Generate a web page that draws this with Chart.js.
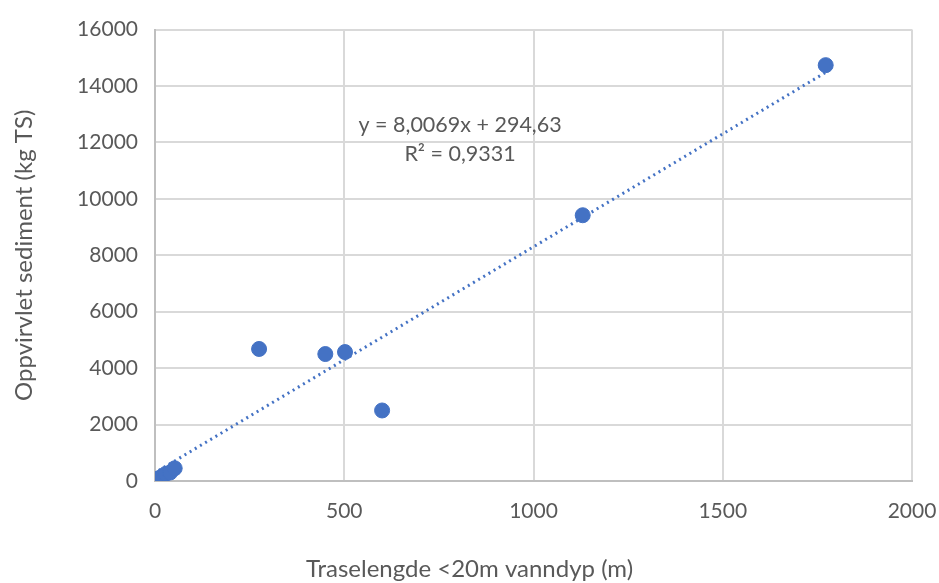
<!DOCTYPE html>
<html>
<head>
<meta charset="utf-8">
<script src="https://cdn.jsdelivr.net/npm/chart.js@4"></script>
<style>
  html, body { margin: 0; padding: 0; background: #fff; }
  #wrap { width: 939px; height: 583px; }
</style>
</head>
<body>
<div id="wrap"><canvas id="scatterChart"></canvas></div>
<script>
// data
var lengths = [10, 18, 28, 40, 52, 275, 450, 502, 600, 1130, 1772];
var sediment = [100, 150, 250, 300, 450, 4680, 4500, 4570, 2500, 9420, 14740];
var xTicks = [0, 500, 1000, 1500, 2000];
var yTicks = [0, 2000, 4000, 6000, 8000, 10000, 12000, 14000, 16000];
var slope = 8.0069;
var intercept = 294.63;
var eqLines = ['y = 8,0069x + 294,63', 'R\u00b2 = 0,9331'];
var xTitle = 'Traselengde <20m vanndyp (m)';

document.addEventListener('DOMContentLoaded', function() {
    var ctx = document.getElementById('scatterChart').getContext('2d');
    var points = lengths.map(function(x, i) { return {x: x, y: sediment[i]}; });
    var xMin = Math.min.apply(null, lengths);
    var xMax = Math.max.apply(null, lengths);
    var trend = [
        {x: xMin, y: slope * xMin + intercept},
        {x: xMax, y: slope * xMax + intercept}
    ];

    // equation text + x title (Excel centers it on the whole chart, not the plot)
    var extraText = {
        id: 'extraText',
        afterDatasetsDraw: function(chart) {
            var c = chart.ctx;
            var xs = chart.scales.x, ys = chart.scales.y;
            c.save();
            c.fillStyle = '#595959';
            c.textAlign = 'center';
            c.textBaseline = 'middle';
            c.font = '21.5px Lato';
            c.fillText(eqLines[0], xs.getPixelForValue(806), ys.getPixelForValue(12600));
            c.fillText(eqLines[1], xs.getPixelForValue(806), ys.getPixelForValue(11580));
            c.font = '24px Lato';
            c.fillText(xTitle, chart.width / 2, 569);
            c.restore();
        }
    };

    new Chart(ctx, {
        type: 'scatter',
        data: {
            datasets: [{
                label: 'Sediment',
                data: points,
                backgroundColor: '#4472c4',
                borderColor: '#4472c4',
                pointRadius: 7.5,
                pointHoverRadius: 7.5,
                order: 1
            }, {
                label: 'Trend',
                type: 'line',
                data: trend,
                borderColor: '#4472c4',
                borderWidth: 3,
                borderDash: [2, 4],
                pointRadius: 0,
                fill: false,
                order: 2
            }]
        },
        options: {
            responsive: true,
            maintainAspectRatio: false,
            animation: false,
            plugins: {
                legend: { display: false },
                tooltip: { enabled: false }
            },
            layout: {
                padding: { top: 26, right: 27, left: 0, bottom: 0 }
            },
            scales: {
                x: {
                    type: 'linear',
                    min: 0,
                    max: 2000,
                    afterBuildTicks: function(scale) {
                        scale.ticks = xTicks.map(function(v) { return {value: v}; });
                    },
                    afterFit: function(scale) {
                        scale.height = 102;
                        scale.paddingLeft = 0;
                        scale.paddingRight = 0;
                    },
                    grid: { color: '#d9d9d9', lineWidth: 2, drawTicks: false },
                    border: { color: '#bfbfbf', width: 2 },
                    ticks: {
                        color: '#595959',
                        font: { family: 'Lato', size: 21 },
                        padding: 18,
                        maxRotation: 0,
                        callback: function(v) { return String(v); }
                    }
                },
                y: {
                    type: 'linear',
                    min: 0,
                    max: 16000,
                    afterBuildTicks: function(scale) {
                        scale.ticks = yTicks.map(function(v) { return {value: v}; });
                    },
                    afterFit: function(scale) { scale.width = 155; },
                    grid: { color: '#d9d9d9', lineWidth: 2, drawTicks: false },
                    border: { color: '#bfbfbf', width: 2 },
                    ticks: {
                        color: '#595959',
                        font: { family: 'Lato', size: 21 },
                        padding: 17,
                        callback: function(v) { return String(v); }
                    },
                    title: {
                        display: true,
                        text: 'Oppvirvlet sediment (kg TS)',
                        color: '#595959',
                        font: { family: 'Lato', size: 24 },
                        padding: { top: 10, bottom: 12 }
                    }
                }
            }
        },
        plugins: [extraText]
    });
});
</script>
</body>
</html>
